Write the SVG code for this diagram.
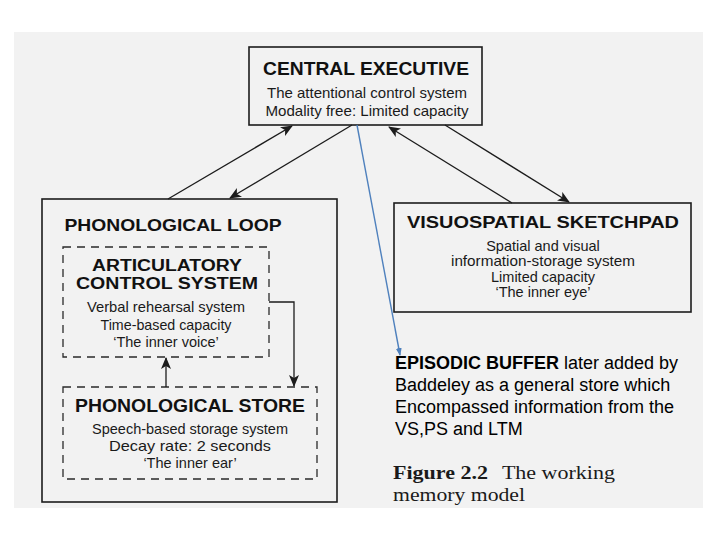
<svg xmlns="http://www.w3.org/2000/svg" width="720" height="540" viewBox="0 0 720 540">
<style>
.box{fill:none;stroke:#1c1c1c;stroke-width:1.6}
.dash{fill:none;stroke:#2a2a2a;stroke-width:1.3;stroke-dasharray:8 6}
.con{fill:none;stroke:#1c1c1c;stroke-width:1.3}
.h{font-family:"Liberation Sans",Arial,sans-serif;font-weight:bold;fill:#111;text-anchor:middle}
.b{font-family:"Liberation Sans",Arial,sans-serif;fill:#1a1a1a;text-anchor:middle;font-size:14.5px}
.ep{font-family:"Liberation Sans",Arial,sans-serif;fill:#000;font-size:18px}
.cap{font-family:"Liberation Serif","Times New Roman",serif;fill:#1a1a1a;font-size:19px}
</style>
<defs>
<marker id="ah" markerWidth="12" markerHeight="10" refX="11" refY="5" orient="auto" markerUnits="userSpaceOnUse">
<path d="M0,0 L12,5 L0,10 L3,5 Z" fill="#1c1c1c"/>
</marker>
<marker id="bh" markerWidth="8" markerHeight="6" refX="7" refY="3" orient="auto" markerUnits="userSpaceOnUse">
<path d="M0,0 L8,3 L0,6 Z" fill="#4f81bd"/>
</marker>
</defs>
<rect x="0" y="0" width="720" height="540" fill="#ffffff"/>
<rect x="14" y="32" width="689" height="476" fill="#f2f2f2"/>

<g id="central-executive">
<rect class="box" x="249" y="47" width="233" height="78"/>
<text class="h" x="366" y="75" font-size="19" textLength="206" lengthAdjust="spacingAndGlyphs">CENTRAL EXECUTIVE</text>
<text class="b" x="367" y="98" textLength="200" lengthAdjust="spacingAndGlyphs">The attentional control system</text>
<text class="b" x="367" y="116" textLength="203" lengthAdjust="spacingAndGlyphs">Modality free: Limited capacity</text>
</g>

<g id="phonological-loop">
<rect class="box" x="42" y="199" width="295" height="303"/>
<text class="h" x="173" y="231" font-size="17" textLength="217" lengthAdjust="spacingAndGlyphs">PHONOLOGICAL LOOP</text>
</g>

<g id="articulatory-control-system">
<rect class="dash" x="63" y="247" width="206" height="110"/>
<text class="h" x="167" y="271" font-size="16" textLength="150" lengthAdjust="spacingAndGlyphs">ARTICULATORY</text>
<text class="h" x="167" y="289" font-size="16" textLength="182" lengthAdjust="spacingAndGlyphs">CONTROL SYSTEM</text>
<text class="b" x="166" y="312" textLength="158" lengthAdjust="spacingAndGlyphs">Verbal rehearsal system</text>
<text class="b" x="166" y="330" textLength="131" lengthAdjust="spacingAndGlyphs">Time-based capacity</text>
<text class="b" x="166" y="347">‘The inner voice’</text>
</g>

<g id="phonological-store">
<rect class="dash" x="63" y="387" width="254" height="92"/>
<text class="h" x="190" y="412" font-size="17.5" textLength="230" lengthAdjust="spacingAndGlyphs">PHONOLOGICAL STORE</text>
<text class="b" x="190" y="434" textLength="196" lengthAdjust="spacingAndGlyphs">Speech-based storage system</text>
<text class="b" x="190" y="451" textLength="162" lengthAdjust="spacingAndGlyphs">Decay rate: 2 seconds</text>
<text class="b" x="190" y="468">‘The inner ear’</text>
</g>

<g id="visuospatial-sketchpad">
<rect class="box" x="394" y="203" width="297" height="109"/>
<text class="h" x="543" y="228" font-size="17" textLength="272" lengthAdjust="spacingAndGlyphs">VISUOSPATIAL SKETCHPAD</text>
<text class="b" x="543" y="251">Spatial and visual</text>
<text class="b" x="543" y="266" textLength="184" lengthAdjust="spacingAndGlyphs">information-storage system</text>
<text class="b" x="543" y="282">Limited capacity</text>
<text class="b" x="543" y="297">‘The inner eye’</text>
</g>

<g id="episodic-buffer">
<text class="ep" x="395" y="369"><tspan font-weight="bold">EPISODIC BUFFER</tspan> later added by</text>
<text class="ep" x="395" y="391">Baddeley as a general store which</text>
<text class="ep" x="395" y="413">Encompassed information from the</text>
<text class="ep" x="395" y="435">VS,PS and LTM</text>
</g>

<g id="caption">
<text class="cap" x="393" y="479" textLength="222" lengthAdjust="spacingAndGlyphs"><tspan font-weight="bold">Figure 2.2</tspan><tspan dx="12">The working</tspan></text>
<text class="cap" x="393" y="501" textLength="132" lengthAdjust="spacingAndGlyphs">memory model</text>
</g>

<g id="connectors">
<line class="con" x1="168" y1="199" x2="292" y2="126" marker-end="url(#ah)"/>
<line class="con" x1="352" y1="125" x2="230" y2="198" marker-end="url(#ah)"/>
<line class="con" x1="512" y1="203" x2="389" y2="127" marker-end="url(#ah)"/>
<line class="con" x1="445" y1="125" x2="569" y2="202" marker-end="url(#ah)"/>
<polyline class="con" points="269,302 294,302 294,386" marker-end="url(#ah)"/>
<line class="con" x1="166" y1="387" x2="166" y2="358" marker-end="url(#ah)"/>
<line x1="357" y1="125" x2="400" y2="355" stroke="#4f81bd" stroke-width="1.4" marker-end="url(#bh)"/>
</g>
</svg>
